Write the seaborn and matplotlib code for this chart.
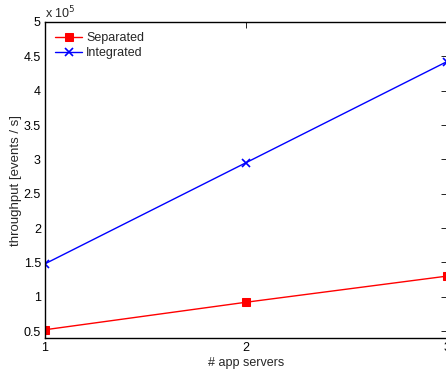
import matplotlib
matplotlib.use("Agg")
import matplotlib.pyplot as plt
import seaborn as sns
import pandas as pd

servers = [1, 2, 3]
separated = [0.52e5, 0.92e5, 1.30e5]
integrated = [1.48e5, 2.95e5, 4.42e5]
series_names = ["Separated", "Integrated"]
yticks = [0.5, 1, 1.5, 2, 2.5, 3, 3.5, 4, 4.5, 5]

sns.set_style("white")
plt.rcParams['font.family'] = ['Liberation Sans', 'DejaVu Sans']

fig = plt.figure(figsize=(4.46, 3.73), dpi=100)
ax = fig.add_axes([45/446, 35/373, (446.5-45)/446, (338-22)/373])

sns.lineplot(x=servers, y=separated, color="#ff0000", marker="s", linewidth=1.0,
             markersize=6, markeredgecolor="#ff0000", label=series_names[0], ax=ax)
sns.lineplot(x=servers, y=integrated, color="#0000ff", marker="x", linewidth=1.0,
             markersize=6, markeredgewidth=1.2, markeredgecolor="#0000ff",
             label=series_names[1], ax=ax)

ax.set_xlim(1, 3)
ax.set_ylim(0.4e5, 5e5)
ax.set_xticks(servers)
ax.set_xticklabels([str(s) for s in servers])
ax.set_yticks([t * 1e5 for t in yticks])
ax.set_yticklabels([f"{t:g}" for t in yticks])
ax.tick_params(direction="in", length=4, width=0.6, labelsize=9, top=True, right=True,
               colors="black", pad=3)
for s in ax.spines.values():
    s.set_linewidth(1.0)
    s.set_color("black")
ax.set_xlabel("# app servers", fontsize=9, labelpad=2)
ax.set_ylabel("throughput [events / s]", fontsize=9.5, labelpad=1)
ax.text(0.0, 1.003, r"x 10$^{5}$", transform=ax.transAxes, fontsize=9, va="bottom", ha="left")

leg = ax.legend(loc="upper left", frameon=False, fontsize=9, handlelength=2.2,
                borderaxespad=0.0, borderpad=0.3, labelspacing=0.25, handletextpad=0.3,
                bbox_to_anchor=(0.015, 0.98))

fig.savefig("out.png", dpi=100)
